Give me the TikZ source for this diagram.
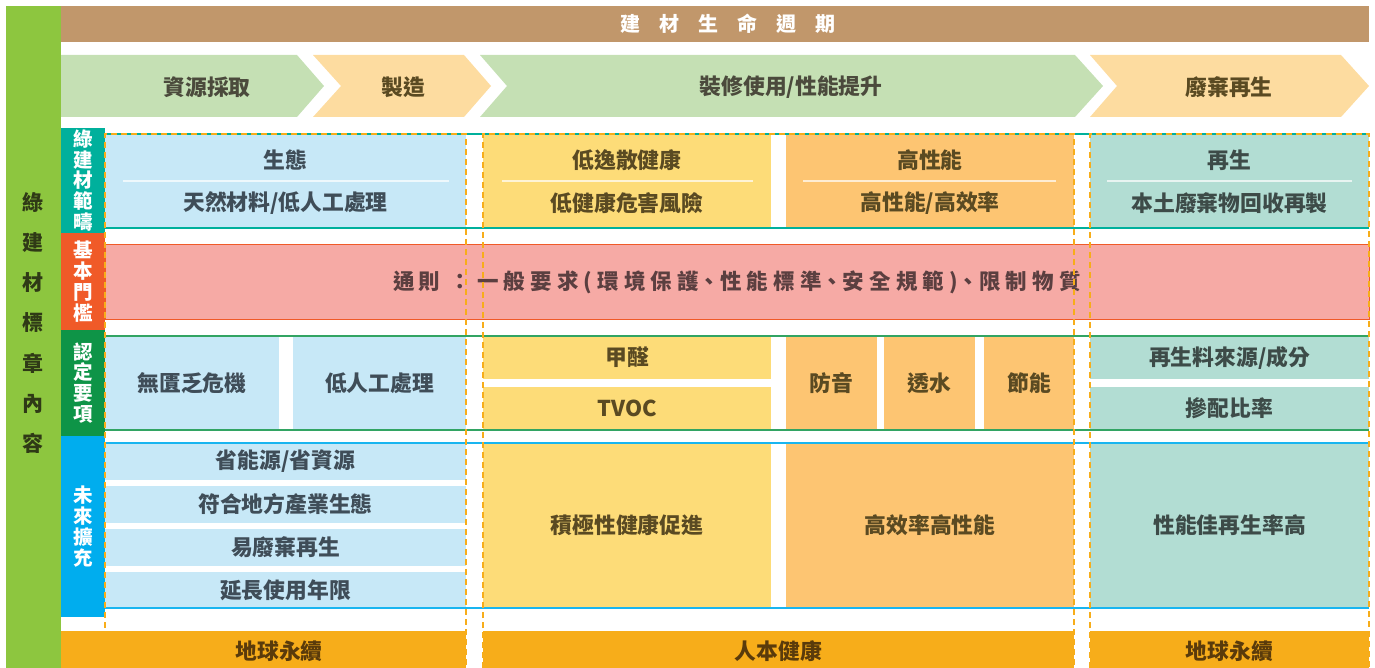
\documentclass[tikz,border=0pt]{standalone}
\usepackage{fontspec}
\setmainfont{Noto Sans CJK TC}
\definecolor{arrgreen}{HTML}{C5E0B4}
\definecolor{arrorange}{HTML}{FDDCA0}
\definecolor{topbrown}{HTML}{C1976B}
\definecolor{leftgreen}{HTML}{8DC63F}
\definecolor{tealtag}{HTML}{00B09C}
\definecolor{redtag}{HTML}{F05A28}
\definecolor{greentag}{HTML}{0E9447}
\definecolor{bluetag}{HTML}{00ADEE}
\definecolor{cblue}{HTML}{C7E8F7}
\definecolor{cyellow}{HTML}{FDDC78}
\definecolor{corange}{HTML}{FDC572}
\definecolor{cteal}{HTML}{B2DDD3}
\definecolor{cred}{HTML}{F6AAA5}
\definecolor{barorange}{HTML}{F7AD1A}
\definecolor{dashorange}{HTML}{F7AD1A}
\definecolor{tblue}{HTML}{3F4D58}
\definecolor{tbrown}{HTML}{5A4A22}
\definecolor{tteal}{HTML}{3D4B48}
\definecolor{tred}{HTML}{5B3F40}
\definecolor{tarrow}{HTML}{4B4A3C}
\definecolor{tbar}{HTML}{5A3B0B}
\definecolor{tleft}{HTML}{2F3A16}
\newcommand\fLbl{\fontsize{21.8}{24}\selectfont\bfseries}
\newcommand\fTag{\fontsize{19.5}{20.8}\selectfont\bfseries}
\newcommand\mkcell[6]{\node[cell,fill=#6,minimum width={#4pt-#2pt},minimum height={#5pt-#3pt}] (#1) at ({(#2+#4)/2},{(#3+#5)/2}) {};}
\tikzset{
  cell/.style={inner sep=0pt,outer sep=0pt,draw=none,rectangle},
  lbl/.style={inner sep=0pt,font=\fLbl,align=center},
  tag/.style={inner sep=0pt,font=\fTag,text=white,align=center},
  sepline/.style={white,opacity=0.7,line width=1.2pt},
  grpdash/.style={dashorange,line width=1.6pt,dash pattern=on 6pt off 4pt},
}
\begin{document}
\begin{tikzpicture}[x=1pt,y=-1pt]
\useasboundingbox (0,0) rectangle (1375,668);
% left green bar
\fill[leftgreen] (6,6) rectangle (61,668);
\node[inner sep=0pt,font=\fontsize{21}{40.3}\selectfont\bfseries,text=tleft,align=center] (lefttitle) at (33,323) {綠\\建\\材\\標\\章\\內\\容};
% top brown bar
\fill[topbrown] (61,6) rectangle (1369,42);
\node[inner sep=0pt,font=\fontsize{20}{22}\selectfont\bfseries,text=white] (toptitle) at (728,24) {建\hspace{19pt}材\hspace{19pt}生\hspace{19pt}命\hspace{19pt}週\hspace{19pt}期};
% arrows
\fill[arrgreen] (61,55) -- (297,55) -- (324,86) -- (297,117) -- (61,117) -- cycle;
\fill[arrorange] (313,55) -- (464,55) -- (491,86) -- (464,117) -- (313,117) -- (341,86) -- cycle;
\fill[arrgreen] (480,55) -- (1075,55) -- (1103,86) -- (1075,117) -- (480,117) -- (507,86) -- cycle;
\fill[arrorange] (1090,55) -- (1341,55) -- (1369,86) -- (1341,117) -- (1090,117) -- (1117,86) -- cycle;
\node[lbl,text=tarrow] (ar1) at (207,87) {資源採取};
\node[lbl,text=tbrown] (ar2) at (403,87) {製造};
\node[lbl,text=tarrow] (ar3) at (791,87) {裝修使用/性能提升};
\node[lbl,text=tbrown] (ar4) at (1229,87) {廢棄再生};
% side tags
\mkcell{tag1}{61}{128}{105}{233}{tealtag}
\mkcell{tag2}{61}{233}{105}{330}{redtag}
\mkcell{tag3}{61}{330}{105}{436}{greentag}
\mkcell{tag4}{61}{436}{105}{617}{bluetag}
\node[tag] (tag1t) at (tag1.center) {綠\\建\\材\\範\\疇};
\node[tag] (tag2t) at (tag2.center) {基\\本\\門\\檻};
\node[tag] (tag3t) at (tag3.center) {認\\定\\要\\項};
\node[tag] (tag4t) at (tag4.center) {未\\來\\擴\\充};
% row 1
\mkcell{a1}{105}{134}{466}{228}{cblue}
\mkcell{b1}{483}{134}{771}{228}{cyellow}
\mkcell{c1}{786}{134}{1074}{228}{corange}
\mkcell{d1}{1090}{134}{1369}{228}{cteal}
\draw[tealtag,line width=1.3pt] (105,134) -- (1369,134) (105,228) -- (1369,228);
\draw[sepline] (123,181) -- (449,181) (502,181) -- (753,181) (803,181) -- (1056,181) (1107,181) -- (1352,181);
\node[lbl,text=tblue] (a1t) at (285.5,160) {生態};
\node[lbl,text=tblue] (a1b) at (285.5,203) {天然材料/低人工處理};
\node[lbl,text=tbrown] (b1t) at (627,160) {低逸散健康};
\node[lbl,text=tbrown] (b1b) at (627,203) {低健康危害風險};
\node[lbl,text=tbrown] (c1t) at (930,160) {高性能};
\node[lbl,text=tbrown] (c1b) at (930,203) {高性能/高效率};
\node[lbl,text=tteal] (d1t) at (1229.5,160) {再生};
\node[lbl,text=tteal] (d1b) at (1229.5,203) {本土廢棄物回收再製};
% row 2
\node[cell,fill=cred,draw=redtag,line width=1pt,minimum width=1264pt,minimum height=74pt] (r2) at (737,282) {};
\node[inner sep=0pt,font=\fontsize{21.5}{24}\selectfont\bfseries\addfontfeatures{LetterSpace=24,RawFeature=+halt},text=tred] (r2t) at (737,282) {通\hspace{4pt}則\hspace{14pt}：\hspace{12pt}一般要求(環境保護、性能標準、安全規範)、限制物質};
% row 3
\mkcell{a3a}{105}{336}{279}{430}{cblue}
\mkcell{a3b}{293}{336}{466}{430}{cblue}
\mkcell{b3a}{483}{336}{771}{379}{cyellow}
\mkcell{b3b}{483}{387}{771}{430}{cyellow}
\mkcell{c3a}{786}{336}{877}{430}{corange}
\mkcell{c3b}{884}{336}{975}{430}{corange}
\mkcell{c3c}{984}{336}{1074}{430}{corange}
\mkcell{d3a}{1090}{336}{1369}{379}{cteal}
\mkcell{d3b}{1090}{387}{1369}{430}{cteal}
\draw[greentag!85!white,line width=1.3pt] (105,336) -- (1369,336) (105,430) -- (1369,430);
\node[lbl,text=tblue] (a3at) at (a3a.center) {無匱乏危機};
\node[lbl,text=tblue] (a3bt) at (a3b.center) {低人工處理};
\node[lbl,text=tbrown] (b3at) at (b3a.center) {甲醛};
\node[lbl,text=tbrown] (b3bt) at (b3b.center) {TVOC};
\node[lbl,text=tbrown] (c3at) at (c3a.center) {防音};
\node[lbl,text=tbrown] (c3bt) at (c3b.center) {透水};
\node[lbl,text=tbrown] (c3ct) at (c3c.center) {節能};
\node[lbl,text=tteal] (d3at) at (d3a.center) {再生料來源/成分};
\node[lbl,text=tteal] (d3bt) at (d3b.center) {摻配比率};
% row 4
\mkcell{a4a}{105}{443}{466}{480}{cblue}
\mkcell{a4b}{105}{486}{466}{523}{cblue}
\mkcell{a4c}{105}{529}{466}{566}{cblue}
\mkcell{a4d}{105}{572}{466}{608}{cblue}
\mkcell{b4}{483}{443}{771}{608}{cyellow}
\mkcell{c4}{786}{443}{1074}{608}{corange}
\mkcell{d4}{1090}{443}{1369}{608}{cteal}
\draw[bluetag!90!white,line width=1.3pt] (105,443) -- (1369,443) (105,608) -- (1369,608);
\node[lbl,text=tblue] (a4at) at (a4a.center) {省能源/省資源};
\node[lbl,text=tblue] (a4bt) at (a4b.center) {符合地方產業生態};
\node[lbl,text=tblue] (a4ct) at (a4c.center) {易廢棄再生};
\node[lbl,text=tblue] (a4dt) at (a4d.center) {延長使用年限};
\node[lbl,text=tbrown] (b4t) at (b4.center) {積極性健康促進};
\node[lbl,text=tbrown] (c4t) at (c4.center) {高效率高性能};
\node[lbl,text=tteal] (d4t) at (d4.center) {性能佳再生率高};
% dashed group frames
\draw[grpdash] (105,668) -- (105,134) -- (466,134) -- (466,668);
\draw[grpdash] (483,668) -- (483,134) -- (1074,134) -- (1074,668);
\draw[grpdash] (1090,668) -- (1090,134) -- (1369,134) -- (1369,668);
% bottom bars
\mkcell{e1}{61}{631}{466}{668}{barorange}
\mkcell{e2}{483}{631}{1074}{668}{barorange}
\mkcell{e3}{1090}{631}{1369}{668}{barorange}
\node[lbl,text=tbar] (e1t) at (279,651) {地球永續};
\node[lbl,text=tbar] (e2t) at (778.5,651) {人本健康};
\node[lbl,text=tbar] (e3t) at (1229.5,651) {地球永續};
\end{tikzpicture}
\end{document}
